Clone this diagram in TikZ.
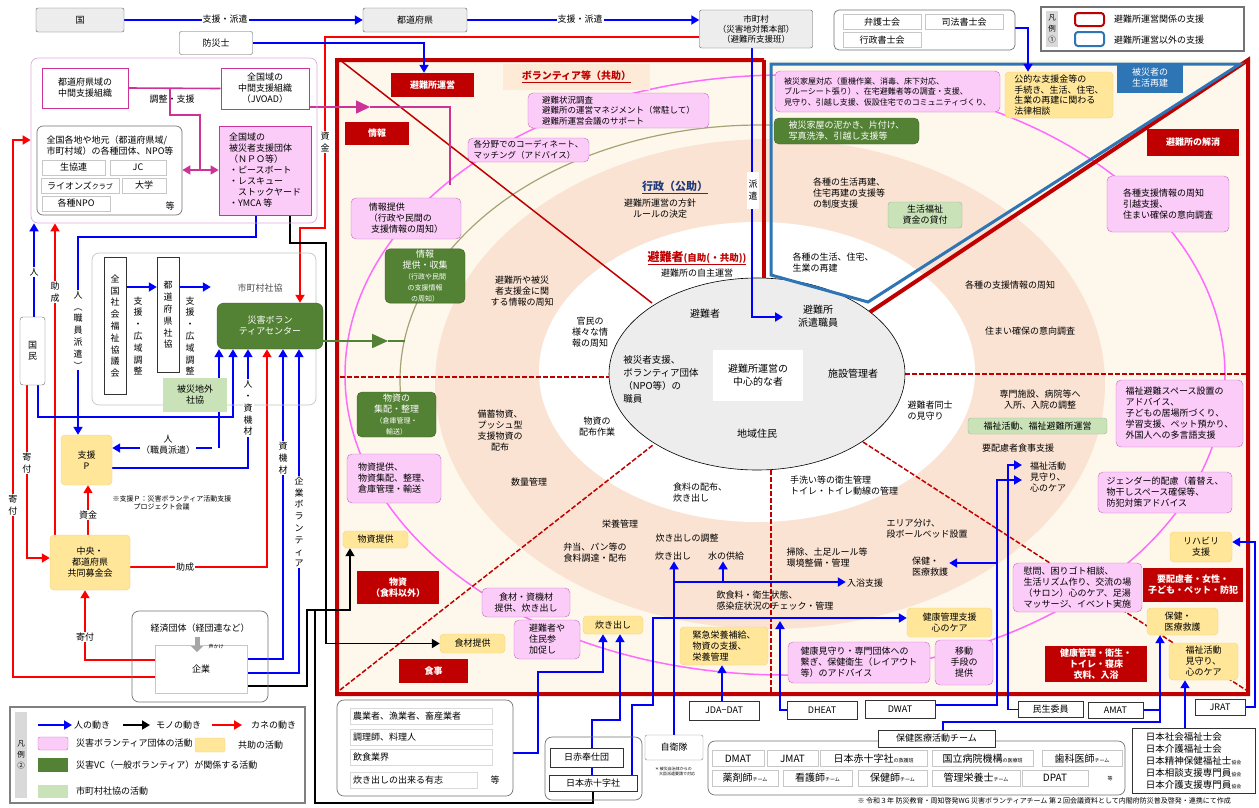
\documentclass[tikz,border=0pt]{standalone}
\usepackage{fontspec}
\setmainfont{Noto Sans CJK JP}
\usetikzlibrary{arrows.meta}

\definecolor{dred}{HTML}{C00000}
\definecolor{pinkfill}{HTML}{FBCCF8}
\definecolor{pinkline}{HTML}{C767C7}
\definecolor{magline}{HTML}{CC3399}
\definecolor{arcpink}{HTML}{FF6BFF}
\definecolor{yelfill}{HTML}{FFE699}
\definecolor{yelline}{HTML}{F2D27A}
\definecolor{dgreen}{HTML}{548235}
\definecolor{lgreen}{HTML}{C9E2B8}
\definecolor{cream}{HTML}{FEF8EC}
\definecolor{salmon}{HTML}{FBE3D3}
\definecolor{olive}{HTML}{A3A375}
\definecolor{frameblue}{HTML}{2E75B6}
\definecolor{arrblue}{HTML}{0000FF}
\definecolor{arrred}{HTML}{FF0000}
\definecolor{peach}{HTML}{FDEBD7}
\definecolor{navy}{HTML}{1F3A7A}

\newcommand\fzN{\fontsize{9}{11}\selectfont}
\newcommand\fzM{\fontsize{10}{13}\selectfont}
\newcommand\fzL{\fontsize{11}{13}\selectfont}
\newcommand\fzV{\fontsize{9}{11.8}\selectfont}
\newcommand\fzS{\fontsize{7}{8.5}\selectfont}
\newcommand\fzT{\fontsize{5}{6}\selectfont}

\pgfdeclarelayer{back}
\pgfdeclarelayer{mid}
\pgfsetlayers{back,mid,main}

\tikzset{
  sz/.style 2 args={minimum width=#1pt, minimum height=#2pt},
  lbl/.style={inner sep=1pt, align=center, font=\fzN},
  lblw/.style={lbl, fill=white},
  wbx/.style={draw=black!80, fill=white, inner sep=1pt, align=center, font=\fzN},
  tbx/.style={draw=black!22, fill=white, inner sep=1pt, align=center, font=\fzN},
  graybx/.style={draw=black!65, fill=black!7, rounded corners=2pt, inner sep=1pt, align=center, font=\fzN},
  pbx/.style={draw=pinkline, fill=pinkfill, rounded corners=5pt, inner sep=2pt, align=center, font=\fzN},
  mbx/.style={draw=magline, line width=1pt, fill=white, inner sep=1pt, align=center, font=\fzN},
  ybx/.style={draw=yelline, fill=yelfill, rounded corners=4pt, inner sep=2pt, align=center, font=\fzN},
  grnbx/.style={draw=dgreen!75!black, fill=dgreen, text=white, rounded corners=5pt, inner sep=1pt, align=center, font=\fzN},
  lgbx/.style={draw=lgreen!80!black, fill=lgreen, rounded corners=3pt, inner sep=1pt, align=center, font=\fzN},
  rbx/.style={fill=dred, text=white, inner sep=1pt, align=center, font=\fzN\bfseries},
  grp/.style={rounded corners=7pt, draw=black!55, line width=0.7pt},
  arrowend/.style={-{Triangle[length=8pt,width=9pt]}},
  bl/.style={draw=arrblue, line width=1.8pt},
  ba/.style={bl, arrowend},
  rl/.style={draw=arrred, line width=1.8pt},
  ra/.style={rl, arrowend},
  kl/.style={draw=black, line width=1.8pt},
  ka/.style={kl, arrowend},
  ml/.style={draw=magline, line width=1.6pt},
  gl/.style={draw=dgreen, line width=2pt},
  divider/.style={draw=dred, line width=1.5pt, dash pattern=on 5pt off 2pt},
}

\begin{document}
\begin{tikzpicture}[x=1pt,y=-1pt]
\useasboundingbox (0,0) rectangle (1259,807);

% top row
\node[graybx, sz={88}{24}] (kuni) at (80,20) {国};
\node[graybx, sz={104}{24}] (todo) at (415,20) {都道府県};
\node[graybx, sz={113}{38}, font=\fontsize{8.5}{10}\selectfont] (shicho) at (756,29) {市町村\\（災害地対策本部）\\（避難所支援班）};
\node[graybx, fill=white, sz={73}{23}] (bosai) at (216,43) {防災士};
\node[grp, rounded corners=5pt, sz={181}{40}] (bengogrp) at (924.5,30) {};
\node[tbx, sz={78}{15}] (bengo) at (882,22) {弁護士会};
\node[tbx, sz={78}{15}] (shiho) at (964,22) {司法書士会};
\node[tbx, sz={78}{15}] (gyoseishoshi) at (882,40) {行政書士会};

% legend 1
\node[draw=black!55, line width=1.2pt, sz={203}{44}] (legend1) at (1142.5,29) {};
\node[fill=black!15, sz={12}{36}, inner sep=0pt, align=center, font=\fontsize{7.5}{11}\selectfont] at (1052,29) {凡\\例\\①};
\draw[dred, line width=2pt, rounded corners=3pt] (1075,13) rectangle (1104,26);
\draw[frameblue, line width=2pt, rounded corners=3pt] (1075,32) rectangle (1104,46);
\node[lbl, anchor=west] at (1113,19) {避難所運営関係の支援};
\node[lbl, anchor=west] at (1113,40) {避難所運営以外の支援};

% support organisations (top left)
\node[grp, draw=pinkline!55, sz={286}{165}] (pinkreg) at (174,140.5) {};
\node[mbx, sz={86}{40}] (prefmid) at (85,88) {都道府県域の\\中間支援組織};
\node[mbx, sz={88}{41}] (jvoad) at (265,88.5) {全国域の\\中間支援組織\\（JVOAD）};
\node[lbl] at (172,99) {調整・支援};
\node[grp, rounded corners=6pt, sz={145}{89}] (zenkoku) at (109.5,170.5) {};
\node[lbl, align=left] at (110,146) {全国各地や地元（都道府県域/\\市町村域）の各種団体、NPO等};
\node[tbx, sz={63}{15}] at (73.5,167.5) {生協連};
\node[tbx, sz={56}{15}] at (138,167.5) {JC};
\node[tbx, sz={78}{15}] at (80,185.5) {ライオンズ{\fzS クラブ}};
\node[tbx, sz={44}{15}] at (144,185.5) {大学};
\node[tbx, sz={68}{15}] at (76,203.5) {各種NPO};
\node[lbl] at (170,206) {等};
\node[mbx, fill=pinkfill, line width=0.8pt, sz={92}{89}, align=left] (npo) at (265,170.5) {全国域の\\被災者支援団体\\（ＮＰＯ等）\\・ピースボート\\・レスキュー\\\quad ストックヤード\\・YMCA\ 等};

% shakyo
\node[grp, draw=lgreen!60!black!45, sz={224}{152}] (shareg) at (204,329) {};
\begin{pgfonlayer}{back}
\node[fill=lgreen, sz={98}{97}] (shichosha) at (260,313.5) {};
\end{pgfonlayer}
\node[lbl, text=black!70] at (260,288) {市町村社協};
\node[wbx, font=\fzV, sz={22}{137}] (zensha) at (115,326) {全\\国\\社\\会\\福\\祉\\協\\議\\会};
\node[lbl, font=\fzV] at (138,336) {支\\援\\・\\広\\域\\調\\整};
\node[wbx, font=\fzV, sz={22}{115}] (todosha) at (168,315) {都\\道\\府\\県\\社\\協};
\node[lbl, font=\fzV] at (190,336) {支\\援\\・\\広\\域\\調\\整};
\node[grnbx, rounded corners=7pt, sz={106}{46}] (vc) at (270,326) {災害ボラン\\ティアセンター};
\node[lgbx, rounded corners=0pt, draw=none, sz={64}{34}] (gaisha) at (195,395) {被災地外\\社協};

% left column
\node[wbx, draw=black!60, rounded corners=3pt, sz={25}{68}] (kokumin) at (32.5,351) {国\\民};
\node[ybx, sz={51}{50}] (shienp) at (86.5,460) {支援\\P};
\node[ybx, sz={80}{55}] (bokin) at (90,562.5) {中央・\\都道府県\\共同募金会};
\node[lbl, font=\fzS, align=left] at (172,503) {※支援Ｐ：災害ボランティア活動支援\\\qquad\quad プロジェクト会議};
\node[grp, sz={136}{91}] (keizai) at (200,656.5) {};
\node[lbl] at (200,628) {経済団体（経団連など）};
\node[tbx, sz={92}{48}] (kigyo) at (201,669) {企業};
\draw[black!35, line width=5pt, -{Triangle[length=6pt,width=12pt]}] (197,637) -- (197,652);
\node[lbl, font=\fzT] at (216,647) {声かけ};

% labels on the left flows
\node[lblw] at (225,19) {支援・派遣};
\node[lblw] at (580,19) {支援・派遣};
\node[lblw, font=\fzV] at (325,142) {資\\金};
\node[lblw] at (34,272) {人};
\node[lblw, font=\fzV] at (55,292) {助\\成};
\node[lblw, font=\fzV] at (78,330) {人\\︵\\職\\員\\派\\遣\\︶};
\node[lblw, font=\fzV] at (27,463) {寄\\付};
\node[lblw, font=\fzV] at (13,505) {寄\\付};
\node[lblw] at (168,445) {人\\（職員派遣）};
\node[lblw, font=\fzV] at (248,408) {人\\・\\資\\機\\材};
\node[lblw, font=\fzV] at (283,458) {資\\機\\材};
\node[lblw, font=\fzV] at (299,522) {企\\業\\ボ\\ラ\\ン\\テ\\ィ\\ア};
\node[lblw] at (185,567) {助成};
\node[lblw] at (85,637) {寄付};
\node[lblw] at (88,515) {資金};

% legend 2
\node[draw=black!50, line width=1.5pt, sz={295}{96}] (legend2) at (157.5,755) {};
\node[fill=black!15, sz={12}{86}, inner sep=0pt, align=center, font=\fontsize{7.5}{11}\selectfont] at (21,755) {凡\\例\\②};
\draw[ba] (38,725) -- (72,725);
\node[lbl, anchor=west] at (73,725) {人の動き};
\draw[ka] (123,725) -- (150,725);
\node[lbl, anchor=west] at (155,725) {モノの動き};
\draw[ra] (212,725) -- (242,725);
\node[lbl, anchor=west] at (250,725) {カネの動き};
\node[pbx, rounded corners=2pt, sz={30}{13}] at (53,743.5) {};
\node[lbl, anchor=west] at (75,743) {災害ボランティア団体の活動};
\node[ybx, rounded corners=2pt, sz={30}{14}] at (210,745) {};
\node[lbl, anchor=west] at (237,745) {共助の活動};
\node[fill=dgreen, sz={30}{14}] at (53,765) {};
\node[lbl, anchor=west] at (75,765) {災害VC（一般ボランティア）が関係する活動};
\node[fill=lgreen, sz={30}{13}] at (53,791.5) {};
\node[lbl, anchor=west] at (75,791) {市町村社協の活動};

% red title boxes
\node[rbx, sz={83}{24}] (unei) at (432.5,85) {避難所運営};
\node[rbx, sz={64}{23}] (joho) at (377,133.5) {情報};
\node[rbx, sz={92}{27}] (kaisho) at (1193,142.5) {避難所の解消};
\node[rbx, sz={82}{33}] (busshi) at (398,587.5) {物資\\（食料以外）};
\node[rbx, sz={69}{24}] (shokuji) at (433.5,671) {食事};
\node[rbx, sz={100}{34}] (yohairyo) at (1193,585) {要配慮者・女性・\\子ども・ペット・防犯};
\node[rbx, sz={102}{36}] (kenkokanri) at (1096,664) {健康管理・衛生・\\トイレ・寝床\\衣料、入浴};
\node[fill=frameblue, text=white, sz={66}{30}, inner sep=1pt, align=center, font=\fzN] (saiken) at (1150,78) {被災者の\\生活再建};
\node[fill=peach, sz={147}{26}, font=\fontsize{10}{12}\selectfont] (volbox) at (576.5,77) {\textcolor{dred}{\bfseries\underline{ボランティア等（共助）}}};

% pink boxes
\node[pbx, sz={181}{35}, align=left, font=\fontsize{8.5}{10.5}\selectfont] (chosa) at (618.5,110.5) {避難状況調査\\避難所の運営マネジメント（常駐して）\\避難所運営会議のサポート};
\node[pbx, sz={121}{24}, align=left, font=\fontsize{8.5}{10.5}\selectfont] (coord) at (528.5,150) {各分野でのコーディネート、\\マッチング（アドバイス）};
\node[pbx, sz={110}{41}, align=left] (johoteikyo) at (406,218.5) {情報提供\\（行政や民間の\\\ 支援情報の周知）};
\node[pbx, sz={94}{49}, align=left] (busshipink) at (394,478.5) {物資提供、\\物資集配、整理、\\倉庫管理・輸送};
\node[pbx, sz={88}{29}] (shokuzai) at (526,602.5) {食材・資機材\\提供、炊き出し};
\node[pbx, sz={66}{39}, align=left] (sanka) at (547,639.5) {避難者や\\住民参\\加促し};
\node[pbx, sz={142}{41}, align=left] (kenko) at (859,662.5) {健康見守り・専門団体への\\繋ぎ、保健衛生（レイアウト\\等）のアドバイス};
\node[pbx, sz={58}{45}] (ido) at (964,662.5) {移動\\手段の\\提供};
\node[pbx, sz={129}{49}, align=left, font=\fontsize{9}{10.8}\selectfont] (imon) at (1077.5,587.5) {慰問、困りゴト相談、\\生活リズム作り、交流の場\\（サロン）心のケア、足湯\\マッサージ、イベント実施};
\node[pbx, sz={127}{67}, align=left] (space) at (1179.5,413.5) {福祉避難スペース設置の\\アドバイス、\\子どもの居場所づくり、\\学習支援、ペット預かり、\\外国人への多言語支援};
\node[pbx, sz={134}{41}, align=left] (gender) at (1165,492.5) {ジェンダー的配慮（着替え、\\物干しスペース確保等、\\防犯対策アドバイス};
\node[pbx, sz={225}{41}, align=left, font=\fontsize{8}{10.5}\selectfont] (kaoku) at (887.5,91.5) {被災家屋対応（重機作業、消毒、床下対応、\\ブルーシート張り）、在宅避難者等の調査・支援、\\見守り、引越し支援、仮設住宅でのコミュニティづくり、};
\node[pbx, sz={122}{56}, align=left] (kakushushien) at (1168,204) {各種支援情報の周知\\引越支援、\\住まい確保の意向調査};

% green boxes
\node[grnbx, sz={80}{54}] (johoshushu) at (425,276) {情報\\提供・収集\\\fzS（行政や民間\\\fzS の支援情報\\\fzS の周知）};
\node[grnbx, sz={79}{45}] (shuhai) at (396.5,414.5) {物資の\\集配・整理\\\fzS（倉庫管理・\\\fzS 輸送）};
\node[grnbx, sz={145}{26}, align=left] (doro) at (846.5,131) {被災家屋の泥かき、片付け、\\写真洗浄、引越し支援等};
\node[lgbx, sz={74}{26}] (kashitsuke) at (925,215) {生活福祉\\資金の貸付};
\node[lgbx, sz={139}{16}] (fukushiunei) at (1037.5,426) {福祉活動、福祉避難所運営};

% yellow boxes
\node[ybx, sz={65}{17}] (busshiteikyo) at (375.5,539.5) {物資提供};
\node[ybx, sz={65}{19}] (shokuzaiteikyo) at (472.5,643.5) {食材提供};
\node[ybx, sz={60}{18}] (takidashi) at (613,625) {炊き出し};
\node[ybx, sz={88}{38}, align=left] (kinkyu) at (724,646) {緊急栄養補給、\\物資の支援、\\栄養管理};
\node[ybx, sz={85}{29}] (kenkoshien) at (949.5,622.5) {健康管理支援\\心のケア};
\node[ybx, sz={71}{27}, align=left] (hokenR) at (1182.5,621.5) {保健・\\医療救護};
\node[ybx, sz={69}{37}, align=left] (fukushiR) at (1203.5,661.5) {福祉活動\\見守り、\\心のケア};
\node[ybx, sz={62}{30}] (rehab) at (1201,547) {リハビリ\\支援};
\node[ybx, sz={108}{46}, align=left, font=\fontsize{9}{10.5}\selectfont] (houritsu) at (1059,95) {公的な支援金等の\\手続き、生活、住宅、\\生業の再建に関わる\\法律相談};

% texts in the rings
\node[lbl, text=navy, font=\fzL\bfseries] (gyosei) at (675,187) {\underline{行政（公助）}};
\node[lbl] at (660,208.5) {避難所運営の方針\\ルールの決定};
\node[lbl] (jijo) at (697,258) {\textcolor{dred}{\underline{{\fontsize{12}{13}\selectfont\bfseries 避難者}{\fontsize{9.5}{12}\selectfont\bfseries (自助(・共助))}}}};
\node[lbl] at (697,273) {避難所の自主運営};
\node[lbl, font=\fzM] at (705,314) {避難者};
\node[lbl, font=\fzM] at (818,316) {避難所\\派遣職員};
\node[fill=white, sz={90}{51}, align=center, font=\fzM] (chushin) at (758,375.5) {避難所運営の\\中心的な者};
\node[lbl, font=\fontsize{9.5}{13}\selectfont, align=left] at (661,379) {被災者支援、\\ボランティア団体\\（NPO等）の\\職員};
\node[lbl, font=\fzM] at (853,374) {施設管理者};
\node[lbl, font=\fzM] at (757,434) {地域住民};
\node[lbl] at (590,332) {官民の\\様々な情\\報の周知};
\node[lbl] at (597,427) {物資の\\配布作業};
\node[lbl, align=left] at (700,493) {食料の配布、\\炊き出し};
\node[lbl, align=left] at (844,486) {手洗い等の衛生管理\\トイレ・トイレ動線の管理};
\node[lbl, align=left] at (930,411) {避難者同士\\の見守り};
\node[lbl] at (522,291) {避難所や被災\\者支援金に関\\する情報の周知};
\node[lbl] at (500,431) {備蓄物資、\\プッシュ型\\支援物資の\\配布};
\node[lbl] at (529,482) {数量管理};
\node[lbl] at (620,524) {栄養管理};
\node[lbl] at (595,553) {弁当、パン等の\\食料調達・配布};
\node[lbl] at (687,538) {炊き出しの調整};
\node[lbl] (takidashiT) at (673,556) {炊き出し};
\node[lbl] (mizu) at (726,556) {水の供給};
\node[lbl, align=left] at (827,558) {掃除、土足ルール等\\環境整備・管理};
\node[lbl, align=left] (inshoku) at (775,601) {飲食料・衛生状態、\\感染症状況のチェック・管理};
\node[lbl, align=left] at (927,529) {エリア分け、\\段ボールベッド設置};
\node[lbl, align=left] (hokenL) at (930,567) {保健・\\医療救護};
\node[lbl] (nyuyoku) at (865,583) {入浴支援};
\node[lbl, align=left] (fukushiL) at (1048,477) {福祉活動\\見守り、\\心のケア};
\node[lbl] at (1010,285) {各種の支援情報の周知};
\node[lbl] at (1030,331) {住まい確保の意向調査};
\node[lbl] at (1040,400) {専門施設、病院等へ\\入所、入院の調整};
\node[lbl] at (1018,448) {要配慮者食事支援};
\node[lbl, align=left] at (849,193) {各種の生活再建、\\住宅再建の支援等\\の制度支援};
\node[lbl, align=left] at (833,263) {各種の生活、住宅、\\生業の再建};
\node[lblw, font=\fzV, sz={12}{37}] at (753,190) {派\\遣};

% bottom: teams
\node[wbx, sz={70}{19}] (jda) at (724,710.5) {JDA−DAT};
\node[wbx, sz={70}{18}] (dheat) at (822,710) {DHEAT};
\node[wbx, sz={70}{18}] (dwat) at (900,709) {DWAT};
\node[wbx, sz={65}{16}] (minsei) at (1050.5,709.5) {民生委員};
\node[wbx, sz={55}{16}] (amat) at (1115.5,710) {AMAT};
\node[wbx, sz={50}{16}] (jrat) at (1220,707) {JRAT};
\node[wbx, draw=black!50, rounded corners=2pt, sz={58}{25}] (jieitai) at (674,747.5) {自衛隊};
\node[lbl, font=\fontsize{4}{5}\selectfont, align=left] at (675,771) {＊ 被災自治体からの\\\quad 大臣派遣要請で対応};
\node[grp, sz={417}{54}] (teamgrp) at (916.5,768) {};
\node[wbx, sz={117}{17}] (hokeniryo) at (936.5,738.5) {保健医療活動チーム};
\node[tbx, font=\fzM, sz={52}{16}] at (738,758.5) {DMAT};
\node[tbx, font=\fzM, sz={51}{16}] at (792.5,758.5) {JMAT};
\node[tbx, font=\fzM, sz={107}{16}] at (873.5,758.5) {日本赤十字社{\fzT の救護班}};
\node[tbx, font=\fzM, sz={101}{16}] at (982.5,758.5) {国立病院機構{\fzT の医療班}};
\node[tbx, font=\fzM, sz={80}{16}] at (1082,758.5) {歯科医師{\fzT チーム}};
\node[tbx, font=\fzM, sz={66}{16}] at (745,778) {薬剤師{\fzT チーム}};
\node[tbx, font=\fzM, sz={69}{16}] at (817.5,778) {看護師{\fzT チーム}};
\node[tbx, font=\fzM, sz={69}{16}] at (892.5,778) {保健師{\fzT チーム}};
\node[tbx, font=\fzM, sz={88}{16}] at (976,778) {管理栄養士{\fzT チーム}};
\node[tbx, font=\fzM, sz={66}{16}] at (1055,778) {DPAT};
\node[lbl, font=\fzT] at (1110,779) {等};
\node[wbx, sz={123}{65}, align=left, font=\fontsize{9.5}{12}\selectfont] (nipponfukushi) at (1193.5,760.5) {日本社会福祉士会\\日本介護福祉士会\\日本精神保健福祉士{\fzT 協会}\\日本相談支援専門員{\fzT 協会}\\日本介護支援専門員{\fzT 協会}};

% bottom: food suppliers
\node[grp, sz={176}{96}] (nogyo) at (425,748) {};
\node[tbx, draw=black!15, sz={142}{16}, text width=136pt, align=left] at (421,716) {農業者、漁業者、畜産業者};
\node[tbx, draw=black!15, sz={142}{16}, text width=136pt, align=left] at (421,737) {調理師、料理人};
\node[tbx, draw=black!15, sz={142}{16}, text width=136pt, align=left] at (421,757.5) {飲食業界};
\node[tbx, draw=black!15, sz={127}{16}, text width=121pt, align=left] at (413.5,780) {炊き出しの出来る有志};
\node[lbl] at (495,780) {等};
\node[grp, sz={97}{63}] (nissekigrp) at (593.5,768.5) {};
\node[wbx, sz={73}{19}] (hoshidan) at (586.5,757.5) {日赤奉仕団};
\node[wbx, sz={88}{16}] (nisseki) at (593,783) {日本赤十字社};
\node[lbl, font=\fzS, anchor=east] at (1232,801) {※\ 令和３年\ 防災教育・周知啓発WG\ 災害ボランティアチーム\ 第２回会議資料として内閣府防災普及啓発・連携にて作成};

% ---------- connectors ----------
\begin{pgfonlayer}{mid}
\draw[ba] (kuni.east) -- (todo.west);
\draw[ba] (todo.east) -- (todo.east -| shicho.west);
\draw[ra] (shicho.west |- 0,37) -- (325,37) -- (325,228) -- (300,228) -- (vc.north -| 300,0);
\draw[ba] (bosai.east) -- (424,43) -- (unei.north -| 424,0);
\draw[ml] (prefmid.east) -- (jvoad.west);
\draw[ml] (170,88) -- (170,115) -- (200,115) -- (200,170);
\draw[ml, {Triangle[length=8pt,width=9pt]}-{Triangle[length=8pt,width=9pt]}] (zenkoku.east |- 0,170) -- (npo.west |- 0,170);
\draw[ml, -{Triangle[length=14pt,width=13pt]}] (jvoad.east |- 0,107) -- (370,107);
\draw[ml] (370,107) -- (450,107) -- (450,185);
\draw[ba] (npo.south -| 256,0) -- (256,237) -- (78,237) -- (shienp.north -| 78,0);
\draw[ka] (npo.south -| 290,0) -- (290,243) -- (326,243) -- (326,643.5) -- (shokuzaiteikyo.west);
\draw[ba] (kokumin.north -| 34,0) -- (pinkreg.south -| 34,0);
\draw[ra] (bokin.north -| 55,0) -- (pinkreg.south -| 55,0);
\draw[ra] (kigyo.west |- 0,677) -- (13,677) -- (13,140) -- (pinkreg.west |- 0,140);
\draw[ra] (kokumin.south -| 27,0) -- (27,558) -- (bokin.west |- 0,558);
\draw[ba] (kokumin.south -| 38,0) -- (38,417) -- (233,417) -- (vc.south -| 233,0);
\draw[ba] (219,448) -- (vc.south -| 219,0);
\draw[ba] (212,448) -- (shienp.east |- 0,448);
\draw[ba] (shienp.east |- 0,468) -- (248,468) -- (vc.south -| 248,0);
\draw[ra] (bokin.east |- 0,567) -- (267,567) -- (vc.south -| 267,0);
\draw[ba] (kigyo.east |- 0,659) -- (283,659) -- (vc.south -| 283,0);
\draw[ba] (kigyo.east |- 0,673) -- (299,673) -- (vc.south -| 299,0);
\draw[ka] (kigyo.east |- 0,686) -- (307,686) -- (307,610) -- (350,610) -- (busshiteikyo.south -| 350,0);
\draw[kl] (nisseki.south) -- (593,803) -- (315,803) -- (315,610);
\draw[ra] (kigyo.west |- 0,660) -- (85,660) -- (bokin.south -| 85,0);
\draw[ra] (bokin.north -| 88,0) -- (shienp.south -| 88,0);
\draw[gl, -{Triangle[length=16pt,width=14pt]}] (vc.east |- 0,341) -- (388,341);
\draw[gl] (388,341) -- (405,341);
\draw[ba] (zensha.east |- 0,287) -- (todosha.west |- 0,287);
\draw[ba] (todosha.east |- 0,287) -- (shichosha.west |- 0,287);
\draw[ba] (shicho.south -| 752,0) -- (752,317) -- (783,317);
\draw[ba] (bengogrp.east |- 0,28) -- (1028,28) -- (houritsu.north -| 1028,0);
\draw[ba] (nogyo.east |- 0,753) -- (538,753) -- (538,672) -- (603,672) -- (takidashi.south -| 603,0);
\draw[ba] (nisseki.north -| 592,0) -- (592,720) -- (620,720) -- (takidashi.south -| 620,0);
\draw[ba] (nisseki.north -| 632,0) -- (632,705) -- (653,705) -- (653,618) -- (kenkoshien.west |- 0,618);
\draw[ba] (jieitai.north) -- (takidashiT.south -| jieitai.north);
\draw[ba] (674,582) -- (nyuyoku.west |- 0,582);
\draw[ba] (723,582) -- (mizu.south -| 723,0);
\draw[ba] (jda.north -| 722,0) -- (kinkyu.south -| 722,0);
\draw[ba] (dheat.west) -- (780,710) -- (780,621);
\draw[ba] (dwat.east |- 0,705) -- (997,705) -- (997,480) -- (1022,480);
\draw[ba] (997,563) -- (hokenL.east |- 0,563);
\draw[ba] (minsei.west) -- (1008,709.5) -- (1008,465) -- (1022,465);
\draw[ba] (hokeniryo.north -| 943,0) -- (943,722) -- (1160,722) -- (hokenR.south -| 1160,0);
\draw[bl] (amat.east) -- (1160,710);
\draw[ba] (jrat.east) -- (1255,707) -- (1255,542) -- (rehab.east |- 0,542);
\draw[ba] (nipponfukushi.north -| 1185,0) -- (fukushiR.south -| 1185,0);
\end{pgfonlayer}

% ---------- background: field of the shelter ----------
\begin{pgfonlayer}{back}
\fill[white] (0,0) rectangle (1259,807);
\fill[cream] (337,60) rectangle (1248,694);
\fill[salmon] (770,384) ellipse [x radius=335, y radius=245];
\fill[white] (757,372) ellipse [x radius=218, y radius=150];
\draw[olive, line width=1.2pt] (760,380) ++(177:360 and 255) arc[start angle=177, end angle=272, x radius=360, y radius=255];
\draw[arcpink, line width=1.5pt] (785,375) ellipse [x radius=440, y radius=300];
\draw[dred, line width=1.5pt] (340,60) -- (652,303);
\draw[divider] (340,377) -- (609,377);
\draw[divider] (340,690) -- (653,445);
\draw[divider] (771,470) -- (771,692);
\draw[divider] (863,442) -- (1246,690);
\draw[divider] (905,374) -- (1246,374);
\draw[black, line width=0.6pt, fill=black!7] (757,374) ellipse [x radius=148, y radius=96];
\draw[dred, line width=4pt] (764,60) -- (337,60) -- (337,694) -- (1248,694) -- (1248,60) -- (870,312);
\draw[dred, line width=4pt] (764,60) -- (764,278);
\draw[frameblue, line width=3pt] (771,64) -- (1240,64) -- (868,302) -- (771,275) -- cycle;
\end{pgfonlayer}
\end{tikzpicture}
\end{document}
